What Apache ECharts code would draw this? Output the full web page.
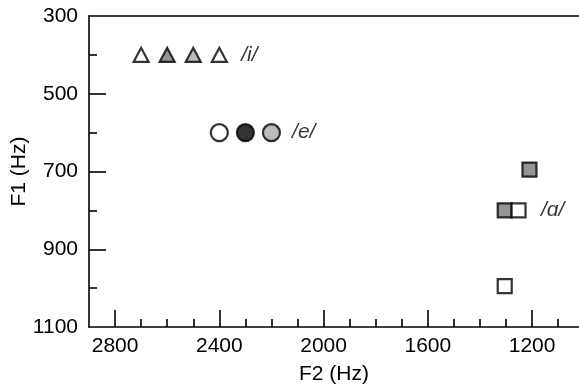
<!DOCTYPE html>
<html>
<head>
<meta charset="utf-8">
<script src="https://cdn.jsdelivr.net/npm/echarts@6/dist/echarts.min.js"></script>
<style>html,body{margin:0;padding:0;background:#fff}#c{width:579px;height:386px}</style>
</head>
<body>
<div id="c"></div>
<script>
// ---- data ----
const xLabels = [2800, 2400, 2000, 1600, 1200];
const xMajorTicks = [2800, 2400, 2000, 1600, 1200];
const xMinorTicks = [2700, 2600, 2500, 2300, 2200, 2100, 1900, 1800, 1700, 1500, 1400, 1300, 1100];
const yLabels = [300, 500, 700, 900, 1100];
const yMajorTicks = [500, 700, 900];
const yMinorTicks = [400, 600, 800, 1000];

const iF2 = [2700, 2600, 2500, 2400];
const iF1 = [400, 400, 400, 400];
const iFill = ['open', 'dark', 'light', 'open'];

const eF2 = [2400, 2300, 2200];
const eF1 = [600, 600, 600];
const eFill = ['open', 'black', 'light'];

const aF2 = [1210, 1305, 1252, 1305];
const aF1 = [695, 800, 800, 995];
const aFill = ['dark', 'dark', 'open', 'open'];

const vowelNames = ['/i/', '/e/', '/ɑ/'];
const vowelNameF2 = [2285, 2076, 1121];
const vowelNameF1 = [400, 600, 800];

// ---- styles ----
const FONT = "'Liberation Sans', Arial, sans-serif";
const FS = 21;
const fillColor = { open: '#ffffff', dark: '#7a7a7a', light: '#ababab', black: '#000000' };
const lineStyle = { color: '#000', width: 1.6 };
const plain = v => String(v);

function pts(xs, ys, fills) {
  return xs.map((x, i) => ({
    value: [x, ys[i]],
    itemStyle: { color: fillColor[fills[i]], borderColor: '#000', borderWidth: 2.2 }
  }));
}

const X_MIN = 1020, X_MAX = 2900, Y_MIN = 300, Y_MAX = 1100;

const chart = echarts.init(document.getElementById('c'), null, { renderer: 'canvas' });
chart.setOption({
  animation: false,
  backgroundColor: '#fff',
  grid: { left: 89, right: 0, top: 16, bottom: 59, containLabel: false, outerBoundsMode: 'none' },
  xAxis: [
    {
      type: 'value', position: 'bottom', inverse: true, min: X_MIN, max: X_MAX,
      axisLine: { show: true, onZero: false, lineStyle },
      axisTick: { show: true, inside: true, length: 17, customValues: xMajorTicks, lineStyle },
      axisLabel: { customValues: xLabels, formatter: plain, fontSize: FS, color: '#000', fontFamily: FONT, margin: 9 },
      splitLine: { show: false },
      name: 'F2 (Hz)', nameLocation: 'middle', nameGap: 37, nameMoveOverlap: false,
      nameTextStyle: { fontSize: FS, color: '#000', fontFamily: FONT }
    },
    {
      type: 'value', position: 'bottom', inverse: true, min: X_MIN, max: X_MAX,
      axisLine: { show: false, onZero: false },
      axisTick: { show: true, inside: true, length: 8, customValues: xMinorTicks, lineStyle },
      axisLabel: { show: false }, splitLine: { show: false }
    },
    {
      type: 'value', position: 'top', inverse: true, min: X_MIN, max: X_MAX,
      axisLine: { show: true, onZero: false, lineStyle },
      axisTick: { show: false }, axisLabel: { show: false }, splitLine: { show: false }
    }
  ],
  yAxis: [
    {
      type: 'value', position: 'left', inverse: true, min: Y_MIN, max: Y_MAX,
      axisLine: { show: true, onZero: false, lineStyle },
      axisTick: { show: true, inside: true, length: 17, customValues: yMajorTicks, lineStyle },
      axisLabel: { customValues: yLabels, formatter: plain, fontSize: FS, color: '#000', fontFamily: FONT, margin: 11 },
      splitLine: { show: false },
      name: 'F1 (Hz)', nameLocation: 'middle', nameGap: 59, nameRotate: 90, nameMoveOverlap: false,
      nameTextStyle: { fontSize: FS, color: '#000', fontFamily: FONT }
    },
    {
      type: 'value', position: 'left', inverse: true, min: Y_MIN, max: Y_MAX,
      axisLine: { show: false, onZero: false },
      axisTick: { show: true, inside: true, length: 8, customValues: yMinorTicks, lineStyle },
      axisLabel: { show: false }, splitLine: { show: false }
    }
  ],
  series: [
    { type: 'scatter', symbol: 'triangle', symbolSize: [15, 14], data: pts(iF2, iF1, iFill) },
    { type: 'scatter', symbol: 'circle', symbolSize: 17, data: pts(eF2, eF1, eFill) },
    { type: 'scatter', symbol: 'rect', symbolSize: 14, data: pts(aF2, aF1, aFill) },
    {
      type: 'scatter', symbolSize: 1, itemStyle: { color: 'transparent' },
      label: {
        show: true, position: 'inside', formatter: p => p.name,
        fontSize: FS, fontStyle: 'italic', color: '#000', fontFamily: FONT
      },
      data: vowelNames.map((n, i) => ({ name: n, value: [vowelNameF2[i], vowelNameF1[i]] }))
    }
  ]
});
</script>
</body>
</html>
